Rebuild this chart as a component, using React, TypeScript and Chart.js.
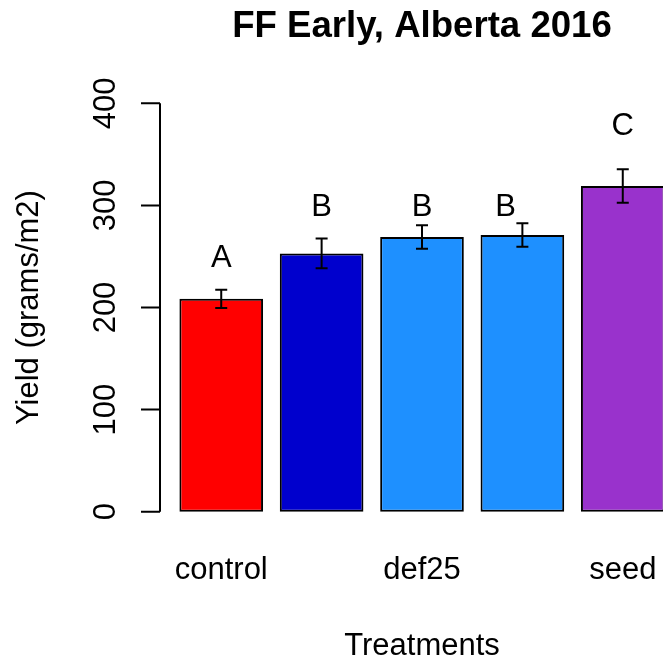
import React, { useEffect, useRef } from "react";
import { Chart, registerables } from "chart.js";

Chart.register(...registerables);

const categories = ["control", "", "def25", "", "seed"];
const means = [208.5, 253, 269, 271, 319];
const stdErrors = [9, 14.5, 11.5, 11.5, 16.5];
const letters = ["A", "B", "B", "B", "C"];
const letterHeights = [250, 300, 300, 300, 380];
const letterShift = [0, 0, 0, -0.2, 0];
const barColors = ["#FF0000", "#0000CD", "#1E90FF", "#1E90FF", "#9932CC"];
const yTicks = [0, 100, 200, 300, 400];

const TITLE = "FF Early, Alberta 2016";
const X_TITLE = "Treatments";
const Y_TITLE = "Yield (grams/m2)";
const FONT = "'Liberation Sans', Arimo, Arial, sans-serif";

// R barplot geometry: width 1, space 0.2
const SPACE = 0.2;
const centers = categories.map((_, i) => SPACE + i * (1 + SPACE) + 0.5);
const xLo = SPACE;
const xHi = SPACE + (categories.length - 1) * (1 + SPACE) + 1;
const xExt = (xHi - xLo) * 0.04;
const xMin = xLo - xExt;
const xMaxFull = xHi + xExt;
// the plot region runs past the right edge of the picture (clipped)
const VISIBLE_FRACTION = 503 / 524;
const xMaxVisible = xMin + (xMaxFull - xMin) * VISIBLE_FRACTION;
const yLo = 0;
const yHi = 400;
const yExt = (yHi - yLo) * 0.04;

const rPlugin = {
  id: "rstyle",
  afterDatasetsDraw(chart: any) {
    const ctx = chart.ctx;
    const xs = chart.scales.x;
    const ys = chart.scales.y;
    const meta = chart.getDatasetMeta(0);
    ctx.save();
    ctx.strokeStyle = "#000";
    ctx.lineWidth = 2;
    means.forEach((m, i) => {
      const bx = meta.data[i].x;
      const t = ys.getPixelForValue(m + stdErrors[i]);
      const b = ys.getPixelForValue(m - stdErrors[i]);
      ctx.beginPath();
      ctx.moveTo(bx, t);
      ctx.lineTo(bx, b);
      ctx.moveTo(bx - 6, t);
      ctx.lineTo(bx + 6, t);
      ctx.moveTo(bx - 6, b);
      ctx.lineTo(bx + 6, b);
      ctx.stroke();
    });
    ctx.fillStyle = "#000";
    ctx.font = `31px ${FONT}`;
    ctx.textAlign = "center";
    ctx.textBaseline = "alphabetic";
    letters.forEach((l, i) => {
      const lx = xs.getPixelForValue(centers[i] + letterShift[i]);
      const ly = ys.getPixelForValue(letterHeights[i]);
      ctx.fillText(l, lx, ly + 11);
    });
    ctx.restore();
  },
  afterDraw(chart: any) {
    const ctx = chart.ctx;
    const xs = chart.scales.x;
    const ys = chart.scales.y;
    const left = chart.chartArea.left;
    const midX = xs.getPixelForValue((xMin + xMaxFull) / 2);
    const midY = (chart.chartArea.top + chart.chartArea.bottom) / 2;
    ctx.save();
    ctx.fillStyle = "#000";
    ctx.strokeStyle = "#000";
    ctx.lineWidth = 2;
    const y0 = ys.getPixelForValue(yTicks[0]);
    const y1 = ys.getPixelForValue(yTicks[yTicks.length - 1]);
    ctx.beginPath();
    ctx.moveTo(left, y0);
    ctx.lineTo(left, y1);
    yTicks.forEach((v) => {
      const py = ys.getPixelForValue(v);
      ctx.moveTo(left, py);
      ctx.lineTo(left - 19, py);
    });
    ctx.stroke();
    ctx.font = `31px ${FONT}`;
    ctx.textAlign = "center";
    ctx.textBaseline = "alphabetic";
    yTicks.forEach((v) => {
      const py = ys.getPixelForValue(v);
      ctx.save();
      ctx.translate(115, py);
      ctx.rotate(-Math.PI / 2);
      ctx.fillText(String(v), 0, 0);
      ctx.restore();
    });
    ctx.save();
    ctx.translate(38, midY);
    ctx.rotate(-Math.PI / 2);
    ctx.fillText(Y_TITLE, 0, 0);
    ctx.restore();
    categories.forEach((c, i) => {
      if (!c) return;
      ctx.fillText(c, xs.getPixelForValue(centers[i]), 579);
    });
    ctx.fillText(X_TITLE, midX, 655);
    ctx.font = `bold 36.6px ${FONT}`;
    ctx.fillText(TITLE, midX, 37);
    ctx.restore();
  },
};

export default function App() {
  const ref = useRef<HTMLCanvasElement | null>(null);
  useEffect(() => {
    if (!ref.current) return;
    const chart = new Chart(ref.current, {
      type: "bar",
      data: {
        datasets: [
          {
            data: means.map((m, i) => ({ x: centers[i], y: m })),
            backgroundColor: barColors,
            borderColor: "#000",
            borderWidth: 2,
            borderSkipped: false,
            categoryPercentage: 1,
            barPercentage: 1 / (1 + SPACE),
          },
        ],
      },
      options: {
        responsive: false,
        maintainAspectRatio: false,
        animation: false,
        layout: { padding: { left: 160, top: 87, right: 0, bottom: 134 } },
        plugins: { legend: { display: false }, tooltip: { enabled: false }, title: { display: false } },
        scales: {
          x: {
            type: "linear",
            offset: false,
            min: xMin,
            max: xMaxVisible,
            display: false,
            afterBuildTicks: (scale: any) => {
              scale.ticks = centers.map((v) => ({ value: v }));
            },
          },
          y: {
            type: "linear",
            offset: false,
            min: yLo - yExt,
            max: yHi + yExt,
            display: false,
            afterBuildTicks: (scale: any) => {
              scale.ticks = yTicks.map((v) => ({ value: v }));
            },
          },
        },
      },
      plugins: [rPlugin],
    });
    return () => chart.destroy();
  }, []);
  return (
    <div style={{ position: "fixed", left: 0, top: 0, width: 663, height: 662, background: "#fff" }}>
      <canvas ref={ref} width={663} height={662} style={{ display: "block" }} />
    </div>
  );
}
